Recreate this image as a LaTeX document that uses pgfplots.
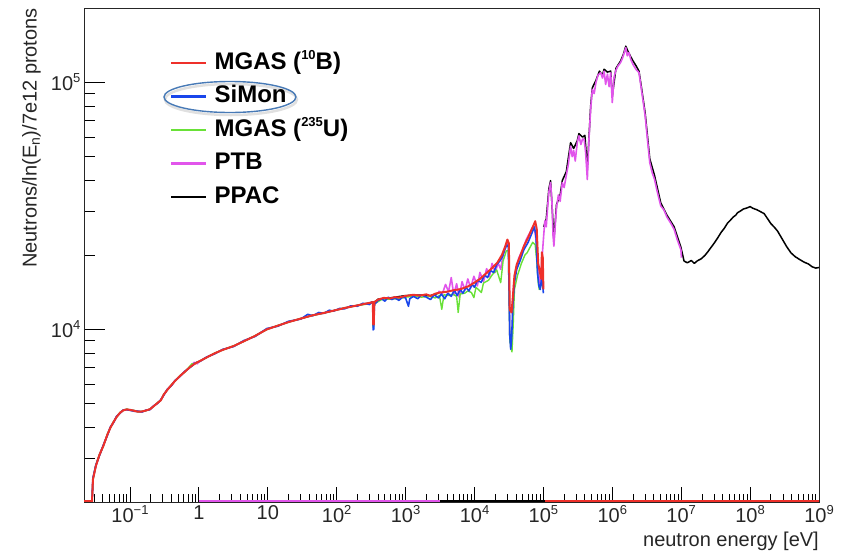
\documentclass[border=0pt]{standalone}
\usepackage{pgfplots}
\pgfplotsset{compat=1.18}
\usepackage{fontspec}
\setmainfont{Liberation Sans}
\definecolor{cRed}{RGB}{238,48,42}
\definecolor{cBlue}{RGB}{25,70,235}
\definecolor{cGreen}{RGB}{105,225,55}
\definecolor{cMag}{RGB}{225,85,235}
\definecolor{cEll}{RGB}{72,122,182}
\newcommand\sups[1]{\raisebox{0.42em}{\fontsize{13}{13}\selectfont #1}}
\begin{document}
\begin{tikzpicture}
\path[use as bounding box] (-84pt,-54pt) rectangle (759pt,502pt);
\begin{axis}[
  scale only axis, width=735pt, height=494pt,
  xmode=log, ymode=log,
  xmin=0.0215, xmax=1e9, ymin=2000, ymax=2e5,
  axis line style={black!85, line width=0.9pt},
  tick pos=left, tick align=inside,
  tick style={black, line width=0.8pt},
  xtick style={/pgfplots/major tick length=15pt, /pgfplots/minor tick length=8pt},
  ytick style={/pgfplots/major tick length=21pt, /pgfplots/minor tick length=11pt},
  xtick={0.1,1,10,100,1e3,1e4,1e5,1e6,1e7,1e8,1e9},
  xticklabels={10\sups{−1},1,10,10\sups{2},10\sups{3},10\sups{4},10\sups{5},10\sups{6},10\sups{7},10\sups{8},10\sups{9}},
  minor xtick={0.03,0.04,0.05,0.06,0.07,0.08,0.09,
    0.2,0.3,0.4,0.5,0.6,0.7,0.8,0.9,
    2,3,4,5,6,7,8,9,
    20,30,40,50,60,70,80,90,
    200,300,400,500,600,700,800,900,
    2e3,3e3,4e3,5e3,6e3,7e3,8e3,9e3,
    2e4,3e4,4e4,5e4,6e4,7e4,8e4,9e4,
    2e5,3e5,4e5,5e5,6e5,7e5,8e5,9e5,
    2e6,3e6,4e6,5e6,6e6,7e6,8e6,9e6,
    2e7,3e7,4e7,5e7,6e7,7e7,8e7,9e7,
    2e8,3e8,4e8,5e8,6e8,7e8,8e8,9e8},
  ytick={1e4,1e5},
  yticklabels={10\sups{4},10\sups{5}},
  minor ytick={3000,4000,5000,6000,7000,8000,9000,2e4,3e4,4e4,5e4,6e4,7e4,8e4,9e4},
  ticklabel style={font=\fontsize{20}{24}\selectfont, text=black!85},
  xlabel={neutron energy [eV]},
  xlabel style={at={(axis description cs:1,0)}, anchor=north east, inner sep=0pt, yshift=-30pt, font=\fontsize{20}{24}\selectfont, text=black!85},
  ylabel={Neutrons/ln(E\textsubscript{n})/7e12 protons},
  ylabel style={at={(axis description cs:-0.0844,1)}, anchor=north east, rotate=0, inner sep=0pt, font=\fontsize{20}{24}\selectfont, text=black!85},
  legend style={at={(axis description cs:0.117,0.913)}, anchor=north west, draw=none, fill=none,
    font=\fontsize{24}{28}\selectfont\bfseries, row sep=9.5pt, column sep=6pt, inner sep=0pt,
    nodes={inner sep=1pt, text height=17pt, text depth=5pt}},
  legend cell align=left,
  legend image code/.code={\draw[#1, line width=2.4pt] (0pt,0pt) -- (35pt,0pt);},
  every axis plot/.append style={line join=round},
]
\addlegendimage{cRed}\addlegendentry{MGAS (\sups{\bfseries 10}B)}
\addlegendimage{cBlue}\addlegendentry{SiMon}
\addlegendimage{cGreen}\addlegendentry{MGAS (\sups{\bfseries 235}U)}
\addlegendimage{cMag}\addlegendentry{PTB}
\addlegendimage{black}\addlegendentry{PPAC}

% ---------- PPAC (black) ----------
\addplot[black, line width=1.5pt, forget plot] coordinates {
(0.028,1950)(0.029,2480)(0.032,2810)(0.036,3090)(0.041,3380)(0.047,3740)(0.052,4010)(0.057,4180)(0.064,4430)(0.072,4590)(0.08,4710)(0.09,4730)(0.1,4710)(0.115,4690)(0.13,4650)(0.15,4640)(0.17,4700)(0.195,4740)(0.22,4890)(0.25,5020)(0.28,5170)(0.31,5440)(0.35,5710)(0.4,5940)(0.45,6190)(0.53,6460)(0.62,6730)(0.75,7040)(0.9,7310)(1.04,7440)(1.3,7710)(1.7,7990)(2.2,8260)(3.2,8550)(4.5,8960)(6.5,9390)(9.7,10010)(14,10340)(20,10710)(30,11040)(45,11410)(65,11640)(90,11910)(130,12190)(200,12510)(300,12790)(335,12890)(338,10400)(345,10500)(352,12850)(400,13250)(600,13400)(1000,13700)(1600,13750)(2300,13700)(3000,14000)
};
\addplot[black, line width=1.5pt, forget plot] coordinates {
(101000,26000)(110000,28000)(120000,37000)(127000,40000)(135000,30000)(142000,23000)(155000,32000)(175000,35000)(188000,40000)(215000,43500)(248000,57000)(275000,54000)(310000,58000)(328000,62000)(370000,60000)(400000,61000)(434000,45000)(485000,80000)(513000,95000)(580000,102000)(650000,111000)(720000,107000)(760000,113000)(850000,110000)(948000,111000)(1000000,88000)(1130000,114000)(1320000,122000)(1450000,130000)(1570000,140000)(1700000,133000)(1850000,127000)(2000000,122000)(2200000,117000)(2440000,111000)(2700000,92000)(3000000,75000)(3500000,49000)(4100000,42000)(5050000,32500)(6200000,29000)(7900000,26000)(9900000,21500)(11000000,18900)(12300000,18600)(14000000,19000)(15500000,18500)(17200000,18950)(19500000,19300)(22000000,19900)(24000000,20500)(26900000,21400)(30000000,22300)(34000000,23500)(38000000,24700)(42000000,25600)(47000000,26900)(52000000,27700)(57000000,28500)(62000000,29000)(65700000,29650)(72000000,30100)(80000000,30700)(90000000,31000)(100000000,31400)(110000000,30900)(125000000,30500)(140000000,30000)(160000000,29400)(180000000,28000)(200000000,26800)(225000000,25900)(250000000,25000)(290000000,23300)(340000000,21600)(392000000,20400)(450000000,19700)(520000000,19200)(610000000,18700)(700000000,18400)(800000000,17900)(900000000,17700)(1000000000,17800)
};
\addplot[black, line width=1.6pt, forget plot] coordinates {(3160,2020)(106000,2020)};

% ---------- PTB (magenta) ----------
\addplot[cMag, line width=1.6pt, forget plot] coordinates {
(0.028,1950)(0.029,2480)(0.032,2790)(0.036,3110)(0.041,3380)(0.047,3740)(0.052,4010)(0.057,4180)(0.064,4430)(0.072,4590)(0.08,4710)(0.09,4720)(0.1,4730)(0.115,4670)(0.13,4650)(0.15,4640)(0.17,4700)(0.195,4740)(0.22,4890)(0.25,5020)(0.28,5170)(0.31,5440)(0.35,5710)(0.4,5940)(0.45,6190)(0.53,6460)(0.62,6730)(0.75,7060)(0.85,7350)(0.95,7250)(1.0,7400)
};
\addplot[cMag, line width=1.6pt, forget plot] coordinates {(1.0,2020)(3160,2020)};
\addplot[cMag, line width=1.6pt, forget plot] coordinates {
(3000,14300)(3400,13900)(3800,15200)(4200,14200)(4600,16200)(5000,13800)(5500,15300)(6000,13500)(6600,15600)(7300,14400)(8000,16000)(8800,14700)(9800,16400)(11000,15000)(12000,17000)(13500,15600)(15000,17600)(16500,16400)(18000,18500)(20000,17000)(22000,18600)(24000,17500)(26000,20000)(28000,21500)(30000,22800)(31500,21800)(32500,9500)(34000,8560)(35500,10500)(37000,15000)(40000,17500)(44000,19500)(50000,21000)(56000,23000)(63000,24500)(70000,26000)(75000,25000)(80000,22000)(85000,17500)(88000,15000)(91000,15500)(95000,19000)
(101000,24000)(105000,27500)(110000,26000)(115000,31000)(120000,36000)(127000,39300)(133000,33000)(138000,24000)(142000,21700)(148000,26000)(155000,31000)(165000,35000)(175000,33000)(188000,39300)(200000,37500)(215000,42000)(230000,46500)(248000,55200)(262000,50000)(275000,53000)(290000,48000)(310000,57000)(328000,60700)(350000,56000)(370000,59000)(390000,58800)(410000,52000)(434000,40400)(460000,60000)(485000,77800)(513000,93700)(545000,90000)(580000,100000)(620000,107000)(678000,109400)(720000,104000)(760000,111000)(800000,98000)(850000,108000)(900000,96000)(948000,109400)(1000000,82800)(1060000,105000)(1130000,112000)(1200000,116000)(1320000,120300)(1400000,125000)(1480000,131000)(1570000,138200)(1650000,128000)(1750000,132000)(1850000,124000)(2000000,118000)(2200000,113000)(2440000,109400)(2700000,90000)(3000000,73100)(3250000,58000)(3500000,47300)(3800000,43000)(4100000,40500)(4500000,36000)(5050000,31570)(5600000,30500)(6200000,28500)(7000000,27000)(7900000,25400)(8800000,23000)(9900000,21000)(10100000,19500)
};

% ---------- MGAS 235U (green) ----------
\addplot[cGreen, line width=1.4pt, forget plot] coordinates {
(0.028,1950)(0.029,2450)(0.032,2820)(0.036,3120)(0.041,3360)(0.047,3770)(0.052,3990)(0.057,4210)(0.064,4410)(0.072,4620)(0.08,4690)(0.09,4760)(0.1,4710)(0.115,4690)(0.13,4630)(0.15,4660)(0.17,4680)(0.195,4760)(0.22,4870)(0.25,5050)(0.28,5150)(0.31,5470)(0.35,5690)(0.4,5970)(0.45,6170)(0.53,6500)(0.62,6700)(0.79,7250)(0.9,7280)(1.04,7460)(1.3,7690)(1.7,8020)(2.2,8240)(3.2,8580)(4.5,8940)(6.5,9420)(9.7,9980)(14,10370)(20,10690)(30,11070)(45,11380)(65,11670)(90,11880)(130,12220)(200,12480)(300,12700)
(335,12800)(338,10200)(345,10300)(352,12700)(450,13200)(600,13250)(800,13300)(1000,13500)(1300,13600)(1700,13500)(2200,13600)(2700,13400)(3100,13700)(3350,12050)(3600,13800)(4300,13700)(4800,13900)(5500,13600)(5800,11700)(6200,13900)(7200,14000)(8000,14300)(9000,14100)(9800,13440)(10500,14800)(12600,14100)(13500,15400)(16000,15800)(18000,16600)(21000,17400)(24000,15450)(26000,18900)(29000,20800)(31000,20800)(32500,9000)(35000,8100)(36500,10500)(38000,14500)(42000,16500)(48000,18500)(54000,20000)(58000,20400)(64000,21500)(70000,22500)(76000,22000)(80000,19000)(84000,15500)(87000,14500)(92000,15000)(97000,16000)(100000,14800)
};

% ---------- SiMon (blue) ----------
\addplot[cBlue, line width=1.6pt, forget plot] coordinates {
(0.028,1950)(0.029,2500)(0.032,2830)(0.036,3080)(0.041,3400)(0.047,3720)(0.052,4030)(0.057,4170)(0.064,4450)(0.072,4580)(0.08,4720)(0.09,4730)(0.1,4700)(0.115,4660)(0.13,4660)(0.15,4630)(0.17,4700)(0.195,4730)(0.22,4900)(0.25,5010)(0.28,5190)(0.31,5420)(0.35,5730)(0.4,5920)(0.45,6210)(0.53,6440)(0.62,6750)(0.75,7020)(0.9,7330)(1.04,7420)(1.3,7730)(1.7,7960)(2.2,8290)(3.2,8520)(4.5,9010)(6.5,9350)(9.7,10080)(14,10300)(20,10780)(30,11000)(38,11500)(45,11350)(55,11700)(65,11600)(78,11950)(90,11850)(110,12150)(130,12100)(160,12450)(200,12400)(240,12750)(280,12650)
(300,12600)(320,12900)(335,12700)(338,9950)(345,10000)(352,12600)(400,13100)(450,13300)(500,13000)(560,13500)(630,13200)(700,13400)(800,13100)(900,13500)(1000,13400)(1100,12400)(1150,13300)(1300,13600)(1500,13300)(1700,13800)(2000,13500)(2300,13200)(2600,13800)(3000,13400)(3300,13900)(3700,13300)(4100,14000)(4600,13600)(5100,14400)(5600,13700)(6200,14500)(6800,14000)(7500,14800)(8300,14300)(9200,15200)(10000,14800)(11000,15800)(12500,15500)(14000,16600)(15500,16200)(17000,17300)(19000,17000)(21000,18300)(23000,18800)(25500,19700)(27500,21000)(29500,22000)(31000,21500)(32500,9500)(33500,8300)(34500,9000)(36000,12500)(38000,15500)(41000,17500)(46000,19000)(52000,21000)(60000,22500)(68000,24500)(74000,26000)(78000,24000)(82000,17000)(86000,15000)(90000,14500)(95000,16500)(100000,14000)
};

% ---------- MGAS 10B (red) ----------
\addplot[cRed, line width=2pt, forget plot] coordinates {
(0.028,1950)(0.029,2470)(0.032,2800)(0.036,3100)(0.041,3370)(0.047,3750)(0.052,4000)(0.057,4190)(0.064,4420)(0.072,4600)(0.08,4700)(0.09,4740)(0.1,4720)(0.115,4680)(0.13,4640)(0.15,4650)(0.17,4690)(0.195,4750)(0.22,4880)(0.25,5030)(0.28,5160)(0.31,5450)(0.35,5700)(0.4,5950)(0.45,6180)(0.53,6470)(0.62,6720)(0.75,7050)(0.9,7300)(1.04,7450)(1.3,7700)(1.7,8000)(2.2,8250)(3.2,8560)(4.5,8950)(6.5,9400)(9.7,10000)(14,10350)(20,10700)(30,11050)(45,11400)(65,11650)(90,11900)(130,12200)(200,12500)(300,12800)
(320,12850)(335,12900)(338,10500)(345,10450)(352,12900)(400,13200)(480,13400)(600,13350)(700,13500)(800,13450)(1000,13650)(1300,13800)(1600,13700)(2000,13850)(2300,13650)(2700,13950)(3200,14100)(4000,14200)(5000,14400)(6300,14550)(8000,14900)(9800,15400)(12000,16000)(15300,17000)(18000,17700)(21400,18600)(25000,20000)(28000,21700)(30000,23100)(31500,22300)(32500,12000)(34500,11700)(36000,13500)(38000,16500)(41000,18300)(46000,19800)(52000,21700)(60000,23500)(68000,25500)(73000,26600)(76000,27400)(80000,25500)(84000,18500)(89000,17000)(93000,16000)(95000,20500)(98000,19500)(100000,14500)
};
\addplot[cRed, line width=1.6pt, forget plot] coordinates {(0.0215,2020)(0.028,2020)};
\addplot[cRed, line width=1.6pt, forget plot] coordinates {(106000,2020)(1e9,2020)};

% highlight ellipse around the SiMon entry
\draw[black, opacity=0.12, line width=2.5pt] ([shift={(1pt,-2.5pt)}]rel axis cs:0.1986,0.8198) ellipse [x radius=66pt, y radius=15.5pt];
\draw[cEll, line width=1.4pt] (rel axis cs:0.1986,0.8198) ellipse [x radius=66pt, y radius=15.5pt];
\end{axis}
\end{tikzpicture}
\end{document}
